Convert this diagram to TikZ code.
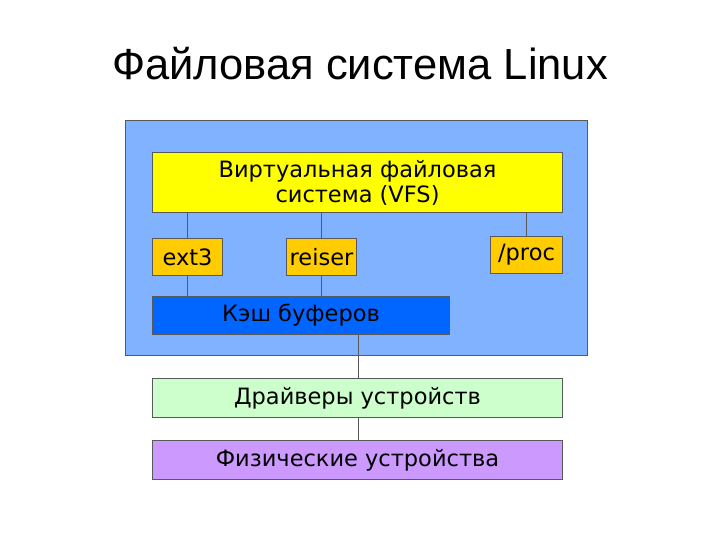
\documentclass[tikz,border=0pt]{standalone}
\usepackage{fontspec}
\setmainfont{Liberation Sans}
\newfontfamily\dv{DejaVu Sans}
\begin{document}
\begin{tikzpicture}[x=1pt,y=-1pt,
 bx/.style={draw=gray!70!black,line width=1pt,anchor=north west,inner sep=0pt,font=\dv\fontsize{22.5}{25}\selectfont,align=center},
 ln/.style={gray!70!black,line width=1pt}]
\useasboundingbox (0,0) rectangle (720,540);
\node (title) at (360,64) {\fontsize{43.5}{48}\selectfont Файловая система Linux};
\node[bx,fill={rgb,255:red,128;green,178;blue,255},minimum width=462,minimum height=235] (bg) at (125,120) {};
\node[bx,fill={rgb,255:red,255;green,255;blue,0},minimum width=410,minimum height=60] (vfs) at (152,152) {Виртуальная файловая\\система (VFS)};
\node[bx,fill={rgb,255:red,255;green,204;blue,0},minimum width=70,minimum height=37] (ext) at (152,238) {ext3};
\node[bx,fill={rgb,255:red,255;green,204;blue,0},minimum width=70,minimum height=37] (rei) at (286,238) {reiser};
\node[bx,fill={rgb,255:red,255;green,204;blue,0},minimum width=72,minimum height=37] (proc) at (490,236) {/proc};
\node[bx,fill={rgb,255:red,0;green,102;blue,255},minimum width=297,minimum height=38] (cache) at (152,296) {Кэш буферов};
\node[bx,fill={rgb,255:red,204;green,255;blue,204},minimum width=410,minimum height=39] (drv) at (152,378) {Драйверы устройств};
\node[bx,fill={rgb,255:red,204;green,153;blue,255},minimum width=410,minimum height=39] (phys) at (152,440) {Физические устройства};
\draw[ln] (ext.north) -- (ext.north |- vfs.south);
\draw[ln] (ext.south) -- (ext.south |- cache.north);
\draw[ln] (rei.north) -- (rei.north |- vfs.south);
\draw[ln] (rei.south) -- (rei.south |- cache.north);
\draw[ln] (proc.north) -- (proc.north |- vfs.south);
\draw[ln] (358,334) coordinate (c1) -- (c1 |- drv.north);
\draw[ln] (358,417) coordinate (c2) -- (c2 |- phys.north);
\end{tikzpicture}
\end{document}
